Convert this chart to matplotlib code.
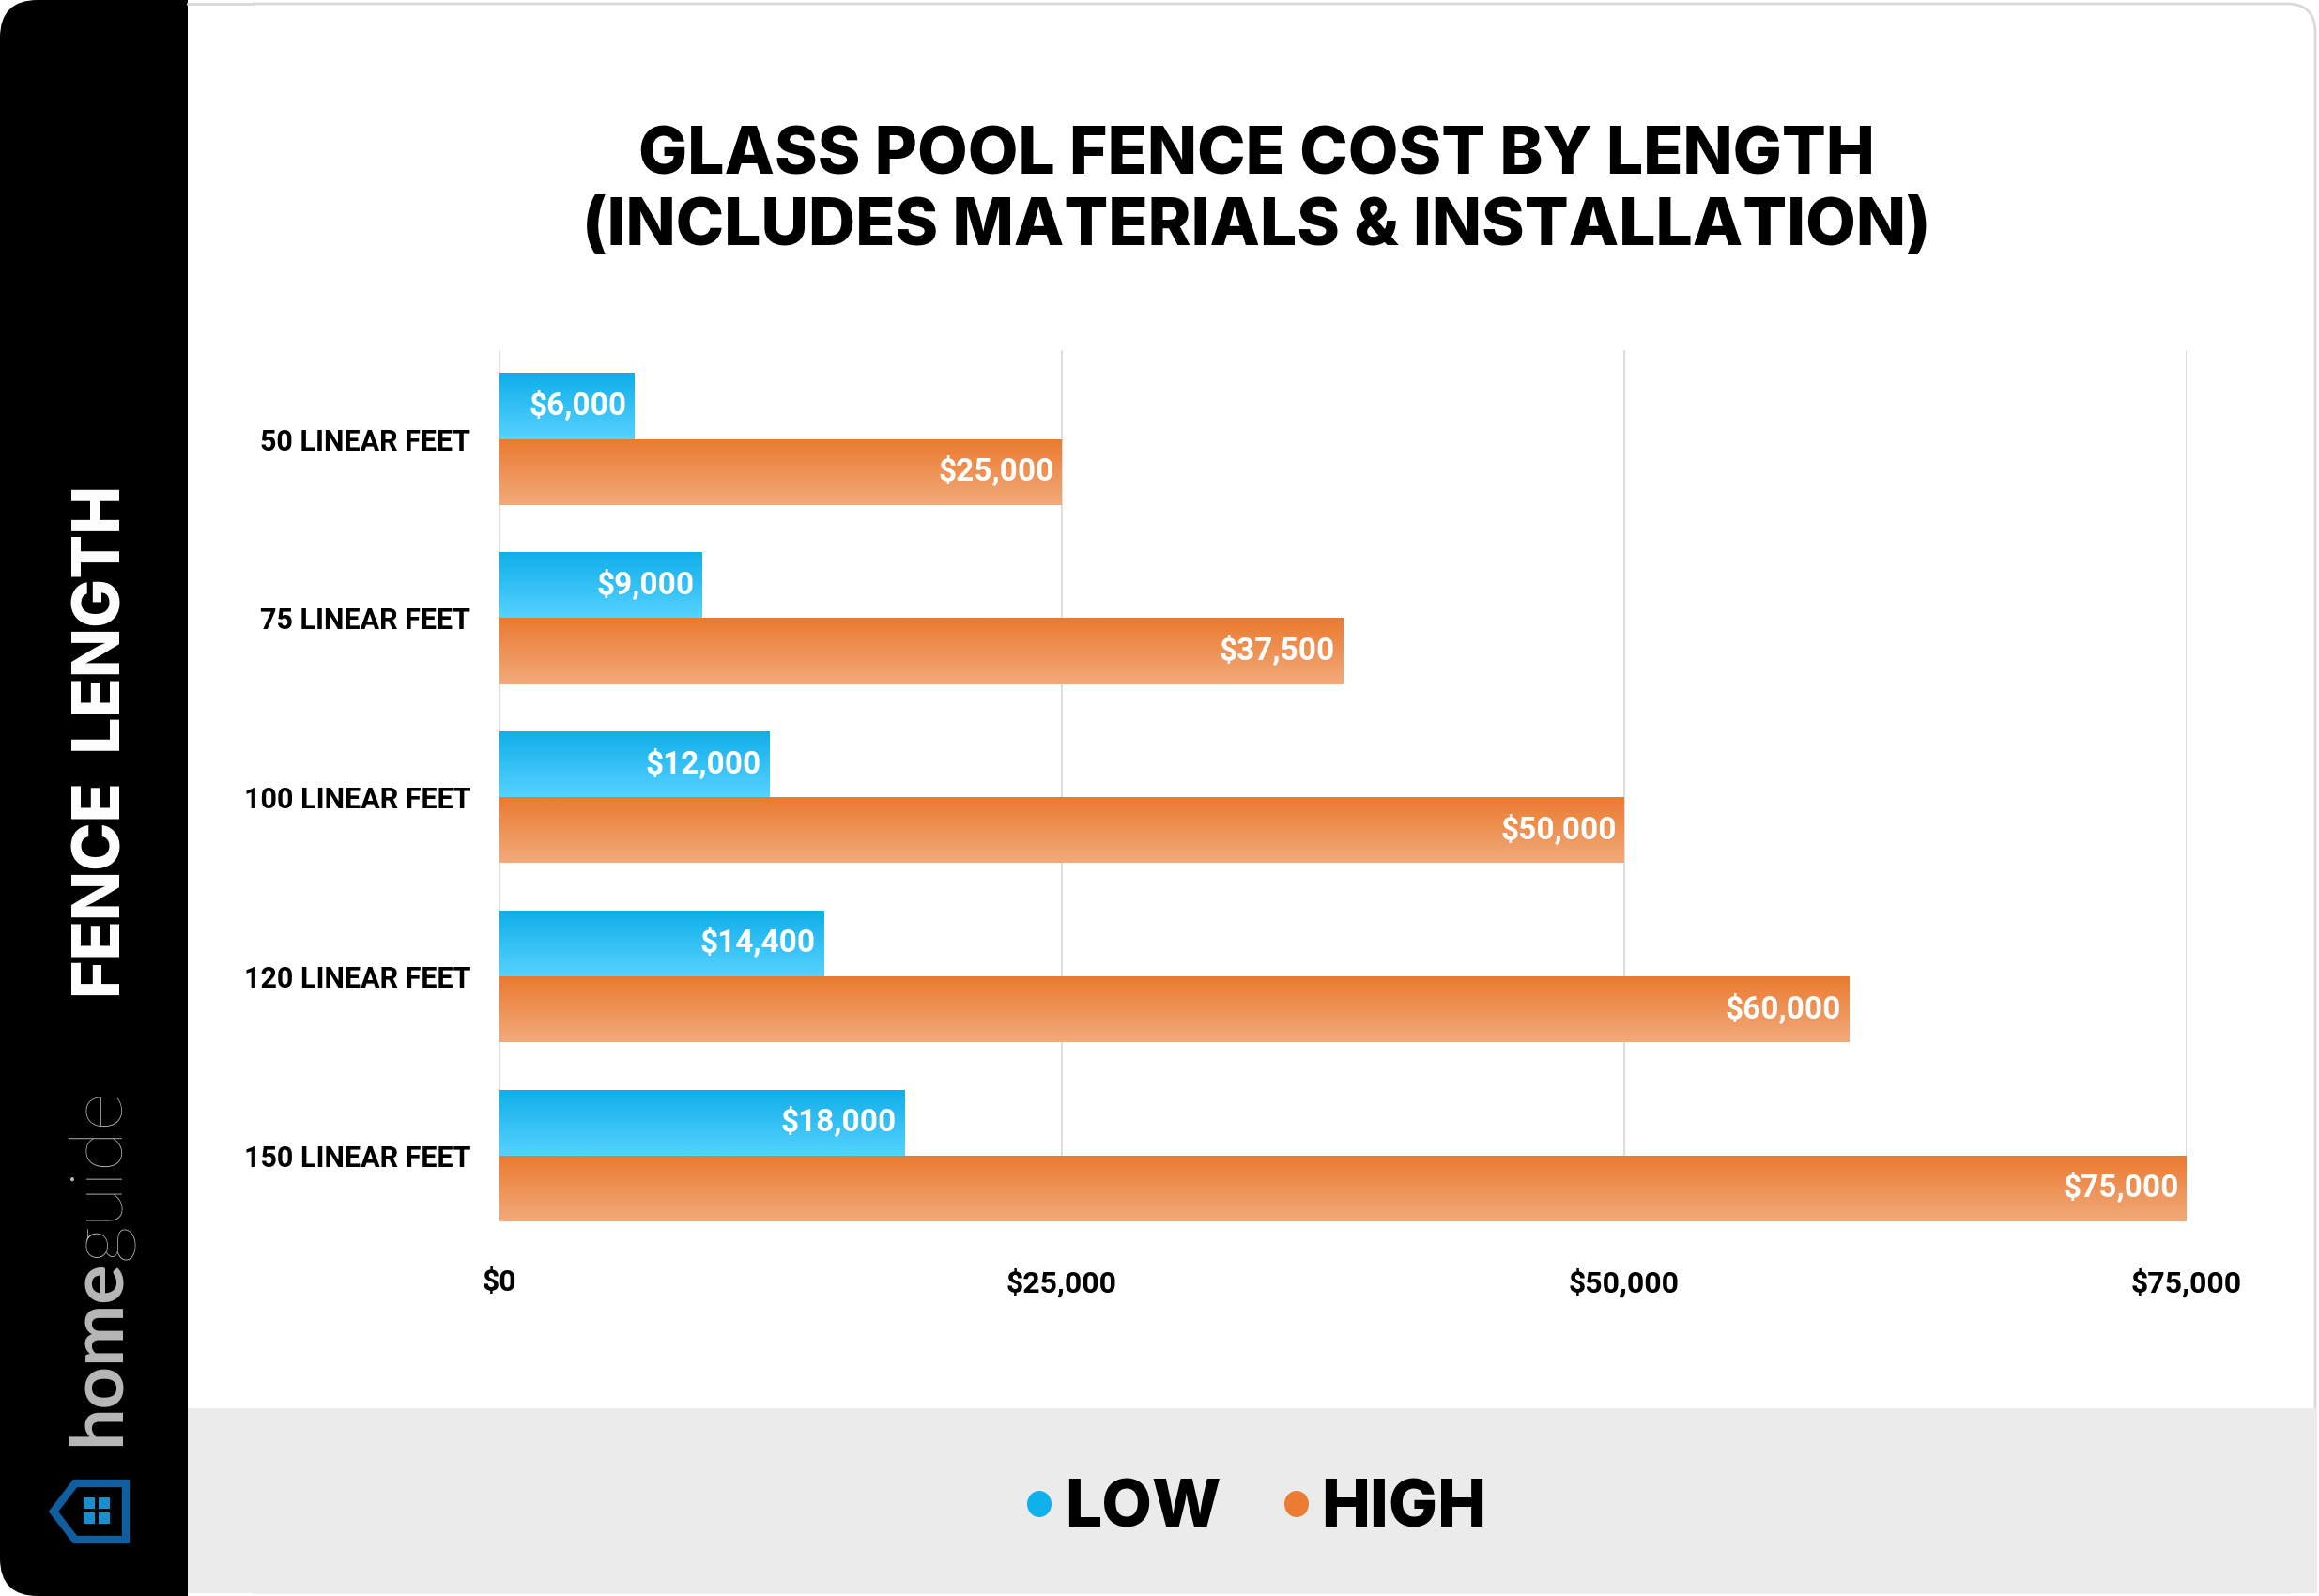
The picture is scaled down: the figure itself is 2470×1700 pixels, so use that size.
import numpy as np
import matplotlib.pyplot as plt
from matplotlib.patches import FancyBboxPatch, Rectangle, Polygon, Ellipse
from matplotlib.colors import to_rgb

# Дані
categories = ['50 LINEAR FEET', '75 LINEAR FEET', '100 LINEAR FEET', '120 LINEAR FEET', '150 LINEAR FEET']
low = [6000, 9000, 12000, 14400, 18000]
high = [25000, 37500, 50000, 60000, 75000]
xticks = [0, 25000, 50000, 75000]

W, H = 2470, 1700
fig = plt.figure(figsize=(W / 100, H / 100), dpi=100)
fig.patch.set_facecolor('white')

# фон: картка, бокова панель, нижня смуга
bg = fig.add_axes([0, 0, 1, 1])
bg.set_xlim(0, W)
bg.set_ylim(H, 0)
bg.axis('off')
bg.add_patch(FancyBboxPatch((4, 4), W - 8, H - 8, boxstyle='round,pad=0,rounding_size=30',
                            fc='white', ec='#d9d9d9', lw=2))
bg.add_patch(FancyBboxPatch((0, 0), 260, H, boxstyle='round,pad=0,rounding_size=40',
                            fc='black', ec='none'))
bg.add_patch(Rectangle((200, 0), 70, H, fc='white', ec='none'))
bg.plot([200, 270], [4, 4], color='#d9d9d9', lw=2)
bg.add_patch(Rectangle((200, 1500), W - 202, 197, fc='#ebebeb', ec='none'))

bg.text(1338, 167, 'GLASS POOL FENCE COST BY LENGTH', ha='center', va='center',
        fontsize=50, fontweight='heavy', family='Inter', color='black')
bg.text(1338, 242, '(INCLUDES MATERIALS & INSTALLATION)', ha='center', va='center',
        fontsize=50, fontweight='heavy', family='Inter', color='black')

bg.text(110, 790, 'FENCE  LENGTH', rotation=90, ha='center', va='center',
        fontsize=50, fontweight='heavy', family='Inter', color='white')

# логотип homeguide
t_home = bg.text(127, 1540, 'home', rotation=90, rotation_mode='anchor', ha='left',
                 va='baseline', fontsize=57, fontweight='bold', family='Lato', color='#b8b8b8')
fig.canvas.draw()
ext = t_home.get_window_extent()
bg.text(127, 1540 - ext.height, 'guide', rotation=90, rotation_mode='anchor', ha='left',
        va='baseline', fontsize=57, fontweight='light', family='Lato', color='#b8b8b8')

# логотип-будиночок
house = Polygon([[57, 1610], [80, 1580], [134, 1580], [134, 1640], [80, 1640]],
                closed=True, fc='none', ec='#0f5fa0', lw=6, joinstyle='miter')
bg.add_patch(house)
for dx in (0, 16):
    for dy in (0, 16):
        bg.add_patch(Rectangle((89 + dx, 1595 + dy), 12, 12, fc='#1a8fd0', ec='none'))

# легенда
bg.add_patch(Ellipse((1107, 1602), 26, 28, fc='#10b0ec', ec='none'))
bg.text(1134, 1608, 'LOW', ha='left', va='center', fontsize=50, fontweight='heavy',
        family='Inter', color='black')
bg.add_patch(Ellipse((1381, 1602), 26, 28, fc='#ec7c33', ec='none'))
bg.text(1407, 1608, 'HIGH', ha='left', va='center', fontsize=50, fontweight='heavy',
        family='Inter', color='black')

# основний графік
ax = fig.add_axes([532 / W, 1 - 1301 / H, (2329 - 532) / W, (1301 - 373) / H])
ax.set_facecolor('none')
for s in ax.spines.values():
    s.set_visible(False)

y = np.arange(len(categories))
h = 0.368
bars_low = ax.barh(y - h / 2, low, height=h, color='#2fbdf3', zorder=2)
bars_high = ax.barh(y + h / 2, high, height=h, color='#ee8e4f', zorder=2)


def grad(c_top, c_bot, n=64):
    a, b = np.array(to_rgb(c_top)), np.array(to_rgb(c_bot))
    t = np.linspace(0, 1, n)[:, None]
    return (a * (1 - t) + b * t)[:, None, :]


for bars, ctop, cbot in ((bars_low, '#10aeea', '#55d2ff'), (bars_high, '#ea7a30', '#f2aa7a')):
    g = grad(ctop, cbot)
    for b in bars:
        x0, y0, w, hh = b.get_x(), b.get_y(), b.get_width(), b.get_height()
        im = ax.imshow(g, extent=(x0, x0 + w, y0 + hh, y0), origin='upper',
                       aspect='auto', zorder=3, interpolation='bilinear')
        im.set_clip_path(b)
        ax.annotate('${:,}'.format(int(w)), (x0 + w, y0 + hh / 2), xytext=(-6, 0),
                    textcoords='offset points', ha='right', va='center',
                    fontsize=24, fontweight='bold', family='Roboto', color='white', zorder=4)

ax.set_xlim(0, 75000)
ax.set_ylim(len(categories) - 1 + h, -0.496)
ax.set_xticks(xticks)
ax.set_xticklabels(['${:,}'.format(v) for v in xticks])
ax.set_yticks(y)
ax.set_yticklabels(categories)
ax.tick_params(axis='both', length=0, labelsize=23)
ax.tick_params(axis='y', pad=22, labelsize=22)
ax.tick_params(axis='x', pad=36)
for lab in ax.get_xticklabels() + ax.get_yticklabels():
    lab.set_fontweight('bold')
    lab.set_family('Roboto')
    lab.set_color('black')
ax.grid(axis='x', color='#dedede', lw=1.5, zorder=0)
ax.set_axisbelow(True)

fig.savefig('out.png', dpi=100)
